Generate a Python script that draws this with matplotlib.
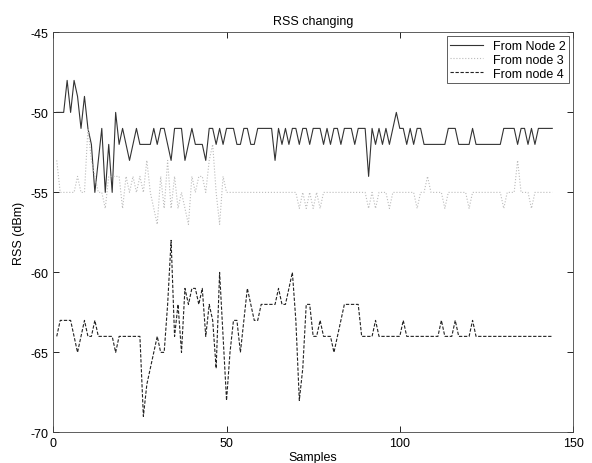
import numpy as np
import matplotlib
matplotlib.use("Agg")
import matplotlib.pyplot as plt

plt.rcParams['font.family'] = ['Liberation Sans', 'DejaVu Sans']
plt.rcParams['axes.unicode_minus'] = False

# RSS readings (dBm), samples 1..144
node2 = [-50, -50, -50, -48, -50, -48, -49, -51, -49, -51,
         -52, -55, -53, -51, -55, -52, -55, -50, -52, -51,
         -52, -53, -52, -51, -52, -52, -52, -52, -51, -52,
         -51, -51, -52, -53, -51, -51, -51, -53, -52, -51,
         -52, -52, -52, -53, -51, -51, -52, -51, -52, -51,
         -51, -51, -52, -52, -51, -51, -52, -52, -51, -51,
         -51, -51, -51, -53, -51, -52, -51, -52, -51, -51,
         -52, -51, -51, -52, -51, -51, -51, -52, -51, -52,
         -51, -51, -52, -51, -51, -51, -52, -51, -51, -51,
         -54, -51, -52, -51, -52, -51, -52, -51, -50, -51,
         -51, -52, -51, -52, -51, -51, -52, -52, -52, -52,
         -52, -52, -52, -51, -51, -51, -52, -52, -52, -52,
         -51, -52, -52, -52, -52, -52, -52, -52, -52, -51,
         -51, -51, -51, -52, -51, -51, -52, -51, -52, -51,
         -51, -51, -51, -51]

node3 = [-53, -55, -55, -55, -55, -55, -54, -55, -55, -51,
         -53, -54, -55, -55, -56, -54, -54, -54, -54, -56,
         -54, -55, -54, -55, -54, -55, -53, -55, -56, -57,
         -54, -56, -53, -56, -54, -56, -55, -56, -57, -54,
         -55, -54, -54, -55, -53, -52, -55, -57, -54, -55,
         -55, -55, -55, -55, -55, -55, -55, -55, -55, -55,
         -55, -55, -55, -55, -55, -55, -55, -55, -55, -55,
         -56, -55, -56, -55, -56, -55, -56, -55, -55, -55,
         -55, -55, -55, -55, -55, -55, -55, -55, -55, -55,
         -56, -55, -56, -55, -55, -55, -56, -55, -55, -55,
         -55, -55, -55, -55, -56, -55, -55, -54, -55, -55,
         -55, -55, -56, -55, -55, -55, -55, -55, -55, -56,
         -55, -55, -55, -55, -55, -55, -55, -55, -55, -56,
         -55, -55, -55, -53, -55, -55, -55, -56, -55, -55,
         -55, -55, -55, -55]

node4 = [-64, -63, -63, -63, -63, -64, -65, -64, -63, -64,
         -64, -63, -64, -64, -64, -64, -64, -65, -64, -64,
         -64, -64, -64, -64, -64, -69, -67, -66, -65, -64,
         -65, -65, -62, -58, -64, -62, -65, -61, -62, -61,
         -61, -62, -61, -64, -62, -63, -66, -60, -64, -68,
         -65, -63, -63, -65, -63, -61, -62, -63, -63, -62,
         -62, -62, -62, -62, -61, -62, -62, -61, -60, -63,
         -68, -66, -62, -62, -64, -64, -63, -64, -64, -64,
         -65, -64, -63, -62, -62, -62, -62, -62, -64, -64,
         -64, -64, -63, -64, -64, -64, -64, -64, -64, -64,
         -63, -64, -64, -64, -64, -64, -64, -64, -64, -64,
         -64, -63, -64, -64, -64, -63, -64, -64, -64, -64,
         -63, -64, -64, -64, -64, -64, -64, -64, -64, -64,
         -64, -64, -64, -64, -64, -64, -64, -64, -64, -64,
         -64, -64, -64, -64]

labels = ['From Node 2', 'From node 3', 'From node 4']

samples = np.arange(1, len(node2) + 1)

fig = plt.figure(figsize=(5.92, 4.64), dpi=100)
ax = fig.add_axes([0.090, 0.066, 0.878, 0.862])

ax.plot(samples, node2, color='#333333', lw=0.8, label=labels[0])
ax.plot(samples, node3, color='#bbbbbb', lw=0.8, ls=':', label=labels[1])
ax.plot(samples, node4, color='#222222', lw=0.8, ls=(0, (3, 1.5)), label=labels[2])

ax.set_xlim(0, 150)
ax.set_ylim(-70, -45)
ax.set_xticks([0, 50, 100, 150])
ax.set_yticks([-70, -65, -60, -55, -50, -45])
ax.tick_params(direction='in', top=True, right=True, labelsize=9, length=4, width=0.6)
for s in ax.spines.values():
    s.set_linewidth(0.6)
    s.set_color('#444444')

ax.set_title('RSS changing', fontsize=9, pad=6)
ax.set_xlabel('Samples', fontsize=9, labelpad=1)
ax.set_ylabel('RSS (dBm)', fontsize=9, labelpad=4)

leg = ax.legend(loc='upper right', fontsize=9, fancybox=False, framealpha=1,
                edgecolor='#444444', borderpad=0.3, labelspacing=0.15,
                handlelength=2.6, borderaxespad=0.3)
leg.get_frame().set_linewidth(0.6)

fig.savefig('out.png', dpi=100)
